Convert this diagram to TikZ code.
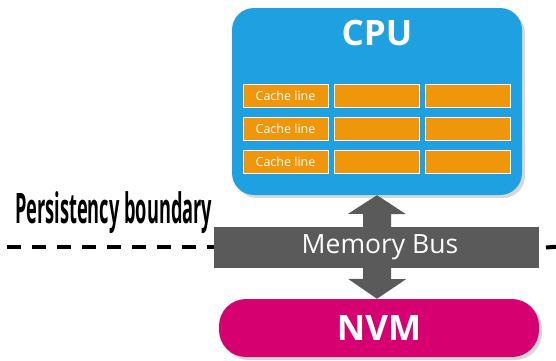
\documentclass[tikz,border=0pt]{standalone}
\usepackage{fontspec}
\setmainfont{Open Sans}
\usetikzlibrary{calc}
\definecolor{cpublue}{RGB}{31,160,224}
\definecolor{cacheorange}{RGB}{240,150,10}
\definecolor{busgray}{RGB}{90,90,90}
\definecolor{nvmpink}{RGB}{215,0,112}
\definecolor{shadowgray}{RGB}{215,215,215}
\tikzset{
  cachebox/.style={draw=white, line width=0.9pt, fill=cacheorange, minimum width=85pt,
    minimum height=23pt, inner sep=0pt, text=white, font=\fontsize{12.5}{13}\selectfont},
  title/.style={text=white, font=\fontsize{35}{35}\selectfont\bfseries, inner sep=0pt, anchor=base},
  boundary/.style={line width=4pt, dash pattern=on 14pt off 11pt},
}
\begin{document}
\begin{tikzpicture}[x=1pt,y=-1pt]
\useasboundingbox (0,0) rectangle (556,360);

% persistency boundary
\coordinate (bl) at (7,246.5);
\coordinate (br) at (560,246.5);
\node[anchor=base west, inner sep=0pt] (ptext) at (15,223.5)
  {\resizebox{197pt}{\height}{\fontsize{42}{42}\selectfont\bfseries Persistency boundary}};

% CPU
\fill[shadowgray, rounded corners=22pt] (235,11) rectangle (525,198);
\node[fill=cpublue, rounded corners=22pt, minimum width=290pt, minimum height=187pt,
  inner sep=0pt] (cpu) at (377,101.5) {};
\node[title] (cputext) at (377,45) {CPU};
\foreach \r/\y in {1/95.5, 2/128.5, 3/161.5}{
  \node[cachebox] (c\r1) at (285.5,\y) {Cache line};
  \node[cachebox] (c\r2) at (376.5,\y) {};
  \node[cachebox] (c\r3) at (467.5,\y) {};
}

% NVM
\fill[shadowgray, rounded corners=27pt] (222,302) rectangle (542,360);
\node[fill=nvmpink, rounded corners=27pt, minimum width=320pt, minimum height=58pt,
  inner sep=0pt] (nvm) at (379,328) {};
\node[title] (nvmtext) at (379,340.5) {NVM};

% dashed boundary line, under the bus
\coordinate (bus) at (376.5,247.5);
\coordinate (buswest) at (214,247.5);
\coordinate (buseast) at (539,247.5);
\draw[boundary] (bl) -- (bl -| buswest);
\draw[boundary] ($(buseast)+(7,0)$) -- (br);

% memory bus: double arrow between CPU and NVM, then the band across it
\fill[busgray] (cpu.south) -- ++(29,19) -- ++(-15,0) -- ++(0,65) -- ++(15,0)
  -- ($(nvm.north -| cpu.south)$) -- ++(-29,-20) -- ++(15,0) -- ++(0,-65) -- ++(-15,0) -- cycle;
\node[fill=busgray, minimum width=325pt, minimum height=41pt, inner sep=0pt,
  text=white, font=\fontsize{26.5}{26.5}\selectfont] (busband) at (bus) {\hspace*{7pt}\raisebox{-1pt}{Memory Bus}};
\end{tikzpicture}
\end{document}
